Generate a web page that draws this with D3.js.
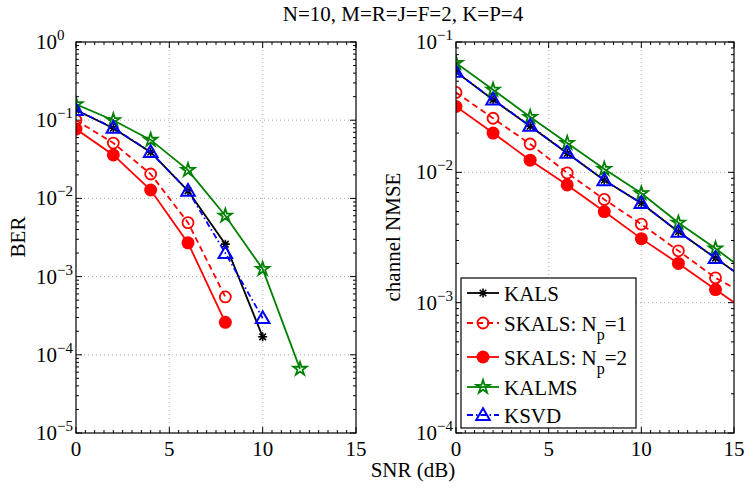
<!DOCTYPE html>
<html>
<head>
<meta charset="utf-8">
<script src="https://cdn.jsdelivr.net/npm/d3@7"></script>
<style>
  body { margin: 0; background: #fff; }
  svg text { font-family: "Liberation Serif", "Times New Roman", Times, "DejaVu Serif", serif; fill: #000; }
</style>
</head>
<body>
<div id="chart"></div>
<script>
// data
let snrBer = [0, 2, 4, 6, 8, 10, 12];
let berKALS = [0.135, 0.079, 0.039, 0.0125, 0.0026, 1.7e-4];
let berSKALS1 = [0.10, 0.051, 0.0205, 0.0049, 5.5e-4];
let berSKALS2 = [0.077, 0.036, 0.0128, 0.0027, 2.6e-4];
let berKALMS = [0.16, 0.10, 0.056, 0.023, 0.006, 1.25e-3, 6.6e-5];
let berKSVD = [0.135, 0.08, 0.039, 0.0125, 0.002, 2.95e-4];

let snrNmse = [0, 2, 4, 6, 8, 10, 12, 14, 16];
let nmseKALS = [0.059, 0.036, 0.0226, 0.014, 0.0087, 0.0058, 0.0035, 0.0022, 0.00138];
let nmseSKALS1 = [0.041, 0.026, 0.0165, 0.0099, 0.0062, 0.0040, 0.0025, 0.00155, 0.00109];
let nmseSKALS2 = [0.032, 0.020, 0.0124, 0.0080, 0.0050, 0.0031, 0.0020, 0.00126, 0.0008];
let nmseKALMS = [0.069, 0.043, 0.0266, 0.0168, 0.0106, 0.0069, 0.0041, 0.0026, 0.0016];
let nmseKSVD = [0.059, 0.0362, 0.0227, 0.0141, 0.0087, 0.0058, 0.0035, 0.0022, 0.00138];

let xTicks = [0, 5, 10, 15];
let seriesNames = ["KALS", "SKALS: N", "SKALS: N", "KALMS", "KSVD"];
let seriesSub = [null, ["p", "=1"], ["p", "=2"], null, null];

let styles = [
  { color: "#000", dash: null, marker: "asterisk" },
  { color: "#ff0000", dash: "6,4", marker: "circle" },
  { color: "#ff0000", dash: null, marker: "dot" },
  { color: "#008000", dash: null, marker: "star" },
  { color: "#0000ff", dash: "6,3,1.5,3", marker: "triangle" }
];

let fontFam = "'Liberation Serif', 'Times New Roman', Times, serif";
let svgWidth = 746, svgHeight = 489;
let svg = d3.select("#chart").append("svg")
  .attr("width", svgWidth).attr("height", svgHeight)
  .attr("font-family", fontFam);

function drawMarker(g, kind, x, y, color) {
  if (kind === "circle") {
    g.append("circle").attr("cx", x).attr("cy", y).attr("r", 5.5)
      .attr("fill", "none").attr("stroke", color).attr("stroke-width", 1.8);
  } else if (kind === "dot") {
    g.append("circle").attr("cx", x).attr("cy", y).attr("r", 6.5).attr("fill", color);
  } else if (kind === "star") {
    g.append("path").attr("transform", `translate(${x},${y})`)
      .attr("d", d3.symbol(d3.symbolStar, 55)())
      .attr("fill", "none").attr("stroke", color).attr("stroke-width", 1.8);
  } else if (kind === "triangle") {
    g.append("path").attr("transform", `translate(${x},${y + 1})`)
      .attr("d", d3.symbol(d3.symbolTriangle, 80)())
      .attr("fill", "none").attr("stroke", color).attr("stroke-width", 2);
  } else if (kind === "asterisk") {
    let s = 4.5, d = 3.3;
    g.append("path")
      .attr("d", `M${x - s},${y}L${x + s},${y}M${x},${y - s}L${x},${y + s}` +
        `M${x - d},${y - d}L${x + d},${y + d}M${x - d},${y + d}L${x + d},${y - d}`)
      .attr("stroke", color).attr("stroke-width", 1.6);
  }
}

function panel(opts) {
  let x = d3.scaleLinear().domain([0, 15]).range([opts.left, opts.right]);
  let y = d3.scaleLog().domain(opts.yDomain).range([433, 42]);
  let g = svg.append("g");

  let clipId = "clip" + opts.id;
  svg.append("clipPath").attr("id", clipId).append("rect")
    .attr("x", opts.left).attr("y", 42)
    .attr("width", opts.right - opts.left).attr("height", 391);

  // decades
  let lo = Math.round(Math.log10(opts.yDomain[0])), hi = Math.round(Math.log10(opts.yDomain[1]));
  let decades = d3.range(lo, hi + 1);

  // grid
  g.selectAll(".gx").data([5, 10]).enter().append("line")
    .attr("x1", d => x(d)).attr("x2", d => x(d))
    .attr("y1", 42).attr("y2", 433)
    .attr("stroke", "#aaa").attr("stroke-dasharray", "1,3");
  g.selectAll(".gy").data(decades.slice(1, -1)).enter().append("line")
    .attr("x1", opts.left).attr("x2", opts.right)
    .attr("y1", d => y(Math.pow(10, d))).attr("y2", d => y(Math.pow(10, d)))
    .attr("stroke", "#aaa").attr("stroke-dasharray", "1,3");

  // ticks
  let minorY = [];
  decades.slice(0, -1).forEach(dd => {
    for (let k = 2; k <= 9; k++) minorY.push(k * Math.pow(10, dd));
  });
  let tickG = g.append("g").attr("stroke", "#000").attr("stroke-width", 1);
  minorY.forEach(v => {
    tickG.append("line").attr("x1", opts.left).attr("x2", opts.left + 3).attr("y1", y(v)).attr("y2", y(v));
    tickG.append("line").attr("x1", opts.right).attr("x2", opts.right - 3).attr("y1", y(v)).attr("y2", y(v));
  });
  decades.forEach(dd => {
    let v = Math.pow(10, dd);
    tickG.append("line").attr("x1", opts.left).attr("x2", opts.left + 6).attr("y1", y(v)).attr("y2", y(v));
    tickG.append("line").attr("x1", opts.right).attr("x2", opts.right - 6).attr("y1", y(v)).attr("y2", y(v));
  });
  d3.range(0, 15.01, 0.5).forEach(v => {
    let len = (v % 5 === 0) ? 6 : 3;
    tickG.append("line").attr("x1", x(v)).attr("x2", x(v)).attr("y1", 433).attr("y2", 433 - len);
    tickG.append("line").attr("x1", x(v)).attr("x2", x(v)).attr("y1", 42).attr("y2", 42 + len);
  });

  // series
  let plotG = g.append("g").attr("clip-path", `url(#${clipId})`);
  opts.series.forEach((vals, i) => {
    let st = styles[i];
    let pts = vals.map((v, j) => [opts.xs[j], v]);
    plotG.append("path")
      .attr("d", d3.line().x(d => x(d[0])).y(d => y(d[1]))(pts))
      .attr("fill", "none").attr("stroke", st.color).attr("stroke-width", 1.8)
      .attr("stroke-dasharray", st.dash);
    pts.forEach(p => drawMarker(plotG, st.marker, x(p[0]), y(p[1]), st.color));
  });

  // frame
  g.append("rect").attr("x", opts.left).attr("y", 42)
    .attr("width", opts.right - opts.left).attr("height", 391)
    .attr("fill", "none").attr("stroke", "#000").attr("stroke-width", 1.2);

  // tick labels
  xTicks.forEach(v => {
    g.append("text").attr("x", x(v)).attr("y", 456)
      .attr("text-anchor", "middle").attr("font-size", 21).text(v);
  });
  decades.forEach(dd => {
    let t = g.append("text").attr("x", opts.left - 40).attr("y", y(Math.pow(10, dd)) + 7)
      .attr("font-size", 21);
    t.append("tspan").text("10");
    t.append("tspan").attr("dy", -9).attr("font-size", 15)
      .text(dd === 0 ? "0" : "\u2212" + Math.abs(dd));
  });

  // axis label
  g.append("text")
    .attr("transform", `translate(${opts.labelX}, 237) rotate(-90)`)
    .attr("text-anchor", "middle").attr("font-size", 21).text(opts.label);

  return { x: x, y: y };
}

panel({
  id: 1, left: 76, right: 356, yDomain: [1e-5, 1], xs: snrBer,
  series: [berKALS, berSKALS1, berSKALS2, berKALMS, berKSVD],
  label: "BER", labelX: 25
});
panel({
  id: 2, left: 456, right: 734, yDomain: [1e-4, 1e-1], xs: snrNmse,
  series: [nmseKALS, nmseSKALS1, nmseSKALS2, nmseKALMS, nmseKSVD],
  label: "channel NMSE", labelX: 400
});

// title and x label
svg.append("text").attr("x", 403).attr("y", 21).attr("text-anchor", "middle")
  .attr("font-size", 21).text("N=10, M=R=J=F=2, K=P=4");
svg.append("text").attr("x", 413).attr("y", 477).attr("text-anchor", "middle")
  .attr("font-size", 21).text("SNR (dB)");

// legend
let legend = svg.append("g");
legend.append("rect").attr("x", 461).attr("y", 278).attr("width", 175).attr("height", 150)
  .attr("fill", "#fff").attr("stroke", "#000").attr("stroke-width", 1.2);
let legendY = [293, 323, 357, 387, 415];
seriesNames.forEach((name, i) => {
  let st = styles[i], ly = legendY[i];
  legend.append("line").attr("x1", 467).attr("x2", 499).attr("y1", ly).attr("y2", ly)
    .attr("stroke", st.color).attr("stroke-width", 1.8).attr("stroke-dasharray", st.dash);
  drawMarker(legend, st.marker, 483, ly, st.color);
  let t = legend.append("text").attr("x", 504).attr("y", ly + 7.5).attr("font-size", 21);
  t.append("tspan").text(name);
  if (seriesSub[i]) {
    t.append("tspan").attr("dy", 9).attr("font-size", 16).text(seriesSub[i][0]);
    t.append("tspan").attr("dy", -9).text(seriesSub[i][1]);
  }
});
</script>
</body>
</html>
